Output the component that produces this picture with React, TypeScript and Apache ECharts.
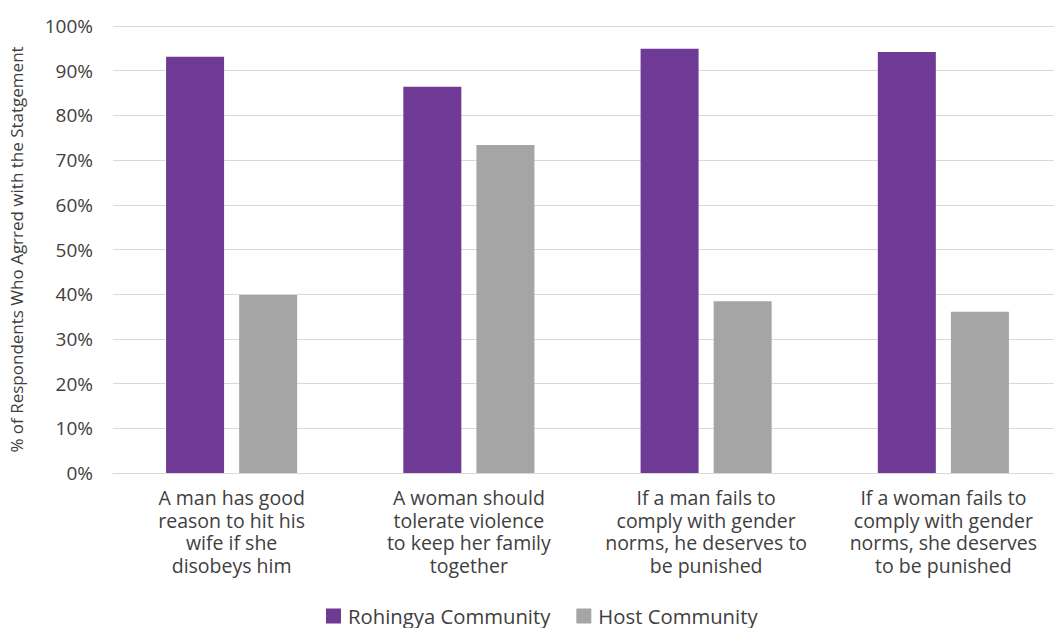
import React, { useEffect, useRef } from "react";
import * as echarts from "echarts";

const categories = [
  "A man has good\nreason to hit his\nwife if she\ndisobeys him",
  "A woman should\ntolerate violence\nto keep her family\ntogether",
  "If a man fails to\ncomply with gender\nnorms, he deserves to\nbe punished",
  "If a woman fails to\ncomply with gender\nnorms, she deserves\nto be punished",
];
const rohingya = [93.1, 86.4, 94.9, 94.2];
const host = [39.8, 73.4, 38.4, 36.1];
const seriesNames = ["Rohingya Community", "Host Community"];
const yTicks = [0, 10, 20, 30, 40, 50, 60, 70, 80, 90, 100];

const FONT = "'Open Sans', 'Noto Sans', sans-serif";
const TEXT = "#404040";

export default function App() {
  const ref = useRef<HTMLDivElement>(null);
  useEffect(() => {
    if (!ref.current) return;
    const chart = echarts.init(ref.current, undefined, { renderer: "svg" });
    chart.setOption({
      animation: false,
      backgroundColor: "#ffffff",
      textStyle: { fontFamily: FONT },
      grid: { left: 110, top: 26, right: 8, height: 447, containLabel: false },
      legend: {
        left: 321,
        top: 601,
        itemWidth: 15,
        itemHeight: 15,
        itemGap: 26,
        icon: "rect",
        textStyle: { fontFamily: FONT, fontSize: 20.3, color: TEXT, padding: [0, 0, 0, 2] },
        data: seriesNames,
      },
      xAxis: {
        type: "category",
        data: categories,
        axisLine: { show: true, lineStyle: { color: "#d9d9d9", width: 1 } },
        axisTick: { show: false },
        axisLabel: {
          interval: 0,
          color: TEXT,
          fontSize: 19.5,
          fontFamily: FONT,
          lineHeight: 22.7,
          margin: 13,
          align: "center",
        },
      },
      yAxis: {
        type: "value",
        min: yTicks[0],
        max: yTicks[yTicks.length - 1],
        interval: 10,
        name: "% of Respondents Who Agrred with the Statgement",
        nameLocation: "middle",
        nameGap: 88,
        nameTextStyle: { color: TEXT, fontSize: 17, fontFamily: FONT },
        axisLine: { show: false },
        axisTick: { show: false },
        splitLine: { lineStyle: { color: "#d9d9d9", width: 1 } },
        axisLabel: {
          color: TEXT,
          fontSize: 19,
          fontFamily: FONT,
          margin: 20,
          formatter: (v: number) => v + "%",
        },
      },
      series: [
        {
          name: seriesNames[0],
          type: "bar",
          data: rohingya,
          barWidth: 58,
          barGap: "26%",
          itemStyle: { color: "#6f3996" },
        },
        {
          name: seriesNames[1],
          type: "bar",
          data: host,
          barWidth: 58,
          itemStyle: { color: "#a5a5a5" },
        },
      ],
    });
    return () => chart.dispose();
  }, []);
  return (
    <div
      style={{
        position: "fixed",
        left: 0,
        top: 0,
        width: 1054,
        height: 628,
        overflow: "hidden",
        background: "#fff",
      }}
    >
      <div ref={ref} style={{ width: 1070, height: 628 }} />
    </div>
  );
}
